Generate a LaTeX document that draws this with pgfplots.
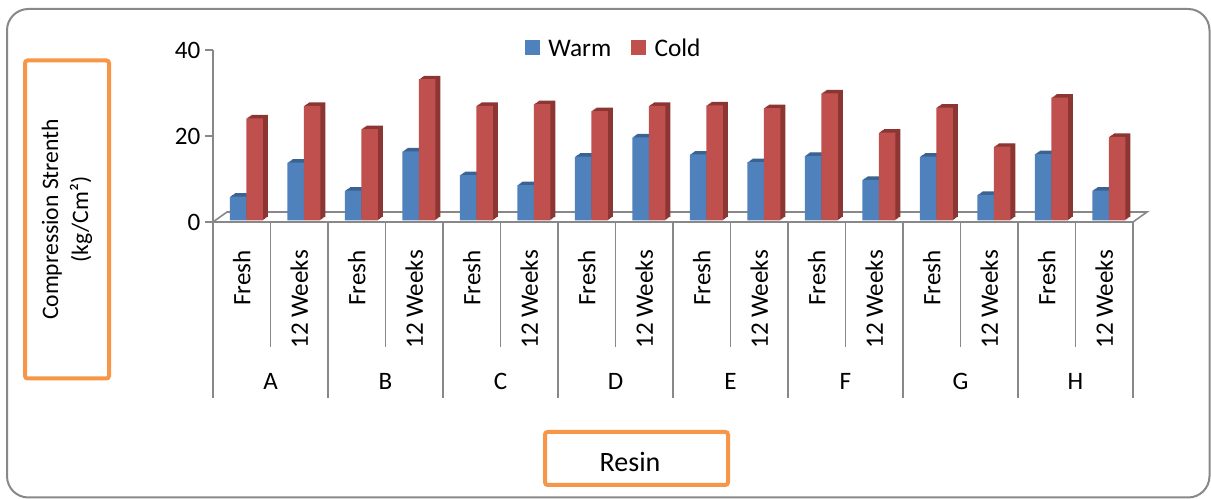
\documentclass[border=0pt]{standalone}
\usepackage{fontspec}
\setmainfont{Carlito}
\usepackage{pgfplots}
\usepackage{pgfplotstable}
\pgfplotsset{compat=1.18}
\definecolor{warm}{HTML}{4F81BD}
\definecolor{warmdark}{HTML}{3A6391}
\definecolor{cold}{HTML}{C0504D}
\definecolor{colddark}{HTML}{8C3634}
\definecolor{axgray}{HTML}{888888}
\definecolor{boxorange}{HTML}{F79646}
\pgfplotstableread{
x warm cold
0 5.5 23.7
1 13.4 26.6
2 6.9 21.2
3 16.0 32.8
4 10.5 26.6
5 8.2 27.0
6 14.8 25.4
7 19.3 26.6
8 15.3 26.7
9 13.5 26.1
10 15.0 29.5
11 9.4 20.4
12 14.8 26.2
13 5.9 17.1
14 15.4 28.5
15 6.9 19.4
}\datatable
\begin{document}
\begin{tikzpicture}[x=0.75pt,y=0.75pt]
\useasboundingbox (0,0) rectangle (1211,499);
\draw[axgray, line width=1.5pt, rounded corners=16pt] (7,490) rectangle (1209.5,1.5);
% floor back edge
\draw[axgray, line width=1.2pt] (213,277) -- (227,287) -- (1147,287) -- (1133,277);
\begin{axis}[
  scale only axis, width=690pt, height=129pt,
  anchor=south west, at={(159.75pt,207.75pt)},
  xmin=-0.5, xmax=15.5, ymin=0, ymax=40,
  clip=false,
  axis x line=bottom, axis y line=left,
  axis line style={draw=axgray, line width=1.2pt, -},
  ytick={0,20,40},
  xtick={0,...,15},
  xticklabels={\rotatebox{90}{Fresh},\rotatebox{90}{12 Weeks},\rotatebox{90}{Fresh},\rotatebox{90}{12 Weeks},\rotatebox{90}{Fresh},\rotatebox{90}{12 Weeks},\rotatebox{90}{Fresh},\rotatebox{90}{12 Weeks},\rotatebox{90}{Fresh},\rotatebox{90}{12 Weeks},\rotatebox{90}{Fresh},\rotatebox{90}{12 Weeks},\rotatebox{90}{Fresh},\rotatebox{90}{12 Weeks},\rotatebox{90}{Fresh},\rotatebox{90}{12 Weeks}},
  extra x ticks={0.5,2.5,...,14.5},
  extra x tick labels={A,B,C,D,E,F,G,H},
  extra x tick style={major tick length=0pt, xticklabel style={anchor=base, yshift=-111pt}},
  tick align=outside, major tick length=6pt,
  xtick style={draw=none},
  ytick style={draw=axgray, line width=1.2pt},
  xticklabel style={anchor=north, inner sep=0pt, yshift=-15pt},
  tick label style={font=\fontsize{18.8}{22}\selectfont},
  /pgf/number format/assume math mode=true,
  legend style={at={(0.436,1.006)}, anchor=center, draw=none, fill=none,
    legend columns=2, font=\fontsize{19}{22}\selectfont,
    /tikz/every even column/.append style={column sep=13pt}},
]
\pgfplotsinvokeforeach{1,...,5}{
\addplot[ybar, bar width=12.4pt, bar shift=-6.2pt, fill=warmdark, draw=none, forget plot,
  xshift={3.4pt+#1*0.75pt}, yshift={1.3pt+#1*0.52pt}] table[x=x,y=warm]{\datatable};
}
\addplot[ybar, bar width=12.4pt, bar shift=-6.2pt, fill=warm, draw=none,
  xshift=3.4pt, yshift=1.3pt,
  legend image code/.code={\fill[warm] (0pt,-5.6pt) rectangle (11.25pt,5.6pt); \path (15.5pt,0pt);}] table[x=x,y=warm]{\datatable};
\addlegendentry{Warm}
\pgfplotsinvokeforeach{1,...,5}{
\addplot[ybar, bar width=12.4pt, bar shift=6.2pt, fill=colddark, draw=none, forget plot,
  xshift={3.4pt+#1*0.75pt}, yshift={1.3pt+#1*0.52pt}] table[x=x,y=cold]{\datatable};
}
\addplot[ybar, bar width=12.4pt, bar shift=6.2pt, fill=cold, draw=none,
  xshift=3.4pt, yshift=1.3pt,
  legend image code/.code={\fill[cold] (0pt,-5.6pt) rectangle (11.25pt,5.6pt); \path (15.5pt,0pt);}] table[x=x,y=cold]{\datatable};
\addlegendentry{Cold}
\end{axis}
% category separators
\foreach \k in {0,...,16} {
  \pgfmathsetmacro\xx{213+57.5*\k}
  \ifodd\k
    \draw[axgray, line width=1.2pt] (\xx,277) -- (\xx,152);
  \else
    \draw[axgray, line width=1.2pt] (\xx,277) -- (\xx,101);
  \fi
}
\draw[boxorange, line width=3pt, rounded corners=2pt] (25,438.5) rectangle (109,120.5);
\node[rotate=90, align=center, font=\fontsize{17.7}{22.5}\selectfont] at (67,279.5) {Compression Strenth\\(kg/Cm²)};
\draw[boxorange, line width=3pt, rounded corners=2pt] (545,67) rectangle (728,14);
\node[font=\fontsize{21}{24}\selectfont] at (630,37.3) {Resin};
\end{tikzpicture}
\end{document}
